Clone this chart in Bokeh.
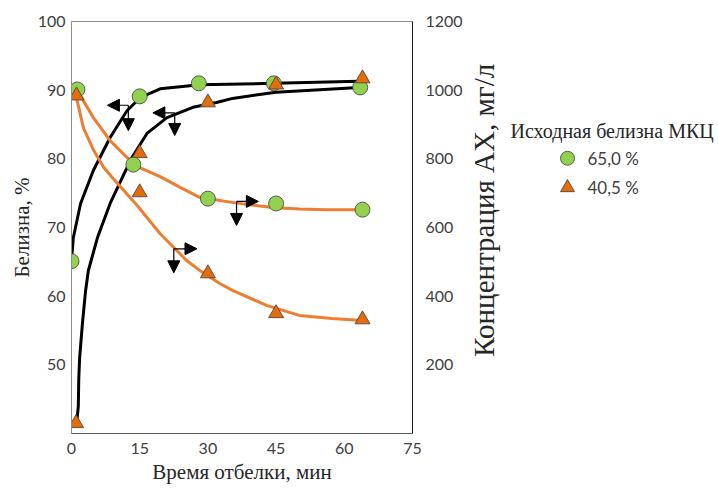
import math
from bokeh.plotting import figure
from bokeh.layouts import row
from bokeh.models import Range1d, LinearAxis, FixedTicker, Arrow, NormalHead
from bokeh.core.properties import value
from bokeh.embed import file_html
from bokeh.resources import INLINE

# ---------------- data ----------------
x_ticks = [0, 15, 30, 45, 60, 75]
left_ticks = [50, 60, 70, 80, 90, 100]
right_ticks = [200, 400, 600, 800, 1000, 1200]

# whiteness, % (left axis)
t_w65 = [0, 15, 28, 44.5, 63.5]
w65 = [65.1, 89.1, 91.0, 91.0, 90.4]
t_w40 = [1, 15, 30, 45, 64]
w40 = [41.5, 80.8, 88.2, 90.8, 91.7]

# concentration, mg/l (right axis)
t_c65 = [1.3, 13.6, 30, 45, 64]
c65 = [1002, 783, 684, 670, 652]
t_c40 = [1.1, 15, 30, 45, 64]
c40 = [984, 702, 466, 350, 332]

# drawn trend curves
fit_t_w65 = [0, 0.4, 2.0, 4.8, 8.5, 12.2, 15.1, 19.5, 28.2, 44.6, 63.2]
fit_w65 = [65.2, 68.5, 73.5, 78.3, 83.1, 87.0, 88.9, 90.2, 90.8, 91.0, 91.3]
fit_t_w40 = [1.1, 1.5, 1.6, 1.8, 2.4, 3.1, 3.7, 5.7, 8.5, 11.4, 13.3, 16.6, 21.0, 26.7, 31.9, 35.4, 45.0, 63.2]
fit_w40 = [41.3, 44.0, 48.0, 51.1, 56.0, 60.8, 63.7, 68.5, 73.5, 77.6, 80.2, 83.7, 86.0, 87.5, 88.2, 88.8, 89.7, 90.4]
fit_t_c65 = [1.3, 4.8, 8.5, 12.2, 15.1, 19.5, 24.0, 28.2, 36.3, 44.2, 50.1, 56.0, 63.9]
fit_c65 = [999, 920, 853, 804, 774, 748, 716, 688, 671, 658, 654, 652, 652]
fit_t_c40 = [0.9, 2.6, 4.9, 7.1, 9.0, 14.4, 19.5, 25.3, 28.2, 32.6, 35.4, 42.9, 50.1, 57.3, 63.9]
fit_c40 = [990, 891, 824, 775, 745, 665, 582, 504, 475, 437, 417, 373, 344, 335, 329]

legend_title = "Исходная белизна МКЦ"
legend_labels = ["65,0 %", "40,5 %"]
legend_markers = ["circle", "triangle"]
x_title = "Время отбелки, мин"
left_title = "Белизна, %"
right_title = "Концентрация АХ, мг/л"

# ---------------- styles ----------------
GREEN = "#92D050"
ORANGE_FILL = "#E46C0A"
ORANGE_LINE = "#ED7D31"
EDGE = "#3f3f3f"
TICK_FONT = "Lato"
SERIF = "Liberation Serif"
H = 491
MAIN_W = 465

p = figure(width=MAIN_W, height=H, x_range=Range1d(0, 75), y_range=Range1d(40, 100),
           output_backend="svg", toolbar_location=None,
           min_border_left=71, min_border_right=MAIN_W - 414, min_border_top=21, min_border_bottom=H - 433)
p.extra_y_ranges = {"conc": Range1d(0, 1200)}
p.xgrid.visible = False
p.ygrid.visible = False
p.outline_line_color = "#8c8c8c"
p.outline_line_width = 1
p.background_fill_color = "white"
p.border_fill_color = "white"


def style_axis(ax, standoff, line_color):
    ax.major_tick_line_color = None
    ax.minor_tick_line_color = None
    ax.major_tick_out = 0
    ax.major_tick_in = 0
    ax.minor_tick_out = 0
    ax.minor_tick_in = 0
    ax.major_label_standoff = standoff
    ax.axis_line_color = line_color
    ax.major_label_text_font = TICK_FONT
    ax.major_label_text_font_size = "16px"
    ax.major_label_text_color = "#404040"


def style_title(ax, title, title_standoff, title_size):
    ax.axis_label = title
    ax.axis_label_standoff = title_standoff
    ax.axis_label_text_font = SERIF
    ax.axis_label_text_font_size = title_size
    ax.axis_label_text_font_style = "normal"
    ax.axis_label_text_color = "#262626"


p.xaxis.ticker = FixedTicker(ticks=x_ticks)
style_axis(p.xaxis[0], 9, "#595959")
style_title(p.xaxis[0], x_title, 3, "21px")
p.yaxis.ticker = FixedTicker(ticks=left_ticks)
style_axis(p.yaxis[0], 6, "#8c8c8c")
style_title(p.yaxis[0], left_title, 1, "21px")

ry = LinearAxis(y_range_name="conc", ticker=FixedTicker(ticks=right_ticks))
style_axis(ry, 13, "#1a1a1a")
p.add_layout(ry, "right")

# curves
p.line(fit_t_w65, fit_w65, line_color="black", line_width=3, line_join="round")
p.line(fit_t_w40, fit_w40, line_color="black", line_width=3, line_join="round")
p.line(fit_t_c65, fit_c65, y_range_name="conc", line_color=ORANGE_LINE, line_width=3, line_join="round")
p.line(fit_t_c40, fit_c40, y_range_name="conc", line_color=ORANGE_LINE, line_width=3, line_join="round")

# markers
p.scatter(t_w65, w65, marker="circle", size=15, fill_color=GREEN, line_color=EDGE, line_width=0.8)
p.scatter(t_w40, w40, marker="triangle", size=15, fill_color=ORANGE_FILL, line_color=EDGE, line_width=0.8)
p.scatter(t_c65, c65, y_range_name="conc", marker="circle", size=15, fill_color=GREEN, line_color=EDGE, line_width=0.8)
p.scatter(t_c40, c40, y_range_name="conc", marker="triangle", size=15, fill_color=ORANGE_FILL, line_color=EDGE, line_width=0.8)

# axis-pointing arrows (corner x, corner y, horizontal tip x, vertical tip y), left-axis units
arrows = [
    (12.5, 87.8, 7.9, 84.1),
    (22.7, 86.7, 17.9, 83.4),
    (22.5, 66.9, 27.6, 63.4),
    (36.3, 73.8, 41.1, 70.3),
]
for cx, cy, hx, vy in arrows:
    p.add_layout(Arrow(x_start=cx, y_start=cy, x_end=hx, y_end=cy, line_color="black", line_width=1.2,
                       end=NormalHead(size=12, fill_color="black", line_color="black")))
    p.add_layout(Arrow(x_start=cx, y_start=cy, x_end=cx, y_end=vy, line_color="black", line_width=1.2,
                       end=NormalHead(size=12, fill_color="black", line_color="black")))

# ---------------- side panel: right-axis title and legend ----------------
SW = 718 - MAIN_W
side = figure(width=SW, height=H, x_range=Range1d(0, SW), y_range=Range1d(0, H),
              output_backend="svg", toolbar_location=None, x_axis_type=None, y_axis_type=None,
              min_border=0, outline_line_color=None)
side.xgrid.visible = False
side.ygrid.visible = False
side.text(x=[18], y=[H - 225], text=[right_title], angle=math.pi / 2,
          text_font=value(SERIF), text_font_size="29px", text_color="#262626",
          text_baseline="middle", text_align="center")
side.text(x=[45], y=[H - 130], text=[legend_title], text_font=value(SERIF), text_font_size="20px",
          text_color="#262626", text_baseline="middle", text_align="left")
leg_y = [H - 163, H - 198]
side.scatter(x=[102, 102], y=leg_y, marker=legend_markers, size=14,
             fill_color=[GREEN, ORANGE_FILL], line_color=EDGE, line_width=0.8)
side.text(x=[122, 122], y=leg_y, text=legend_labels, text_font=value(TICK_FONT), text_font_size="17px",
          text_color="#404040", text_baseline="middle", text_align="left")

layout = row(p, side, spacing=0)
open("out.html", "w").write(file_html(layout, INLINE))
